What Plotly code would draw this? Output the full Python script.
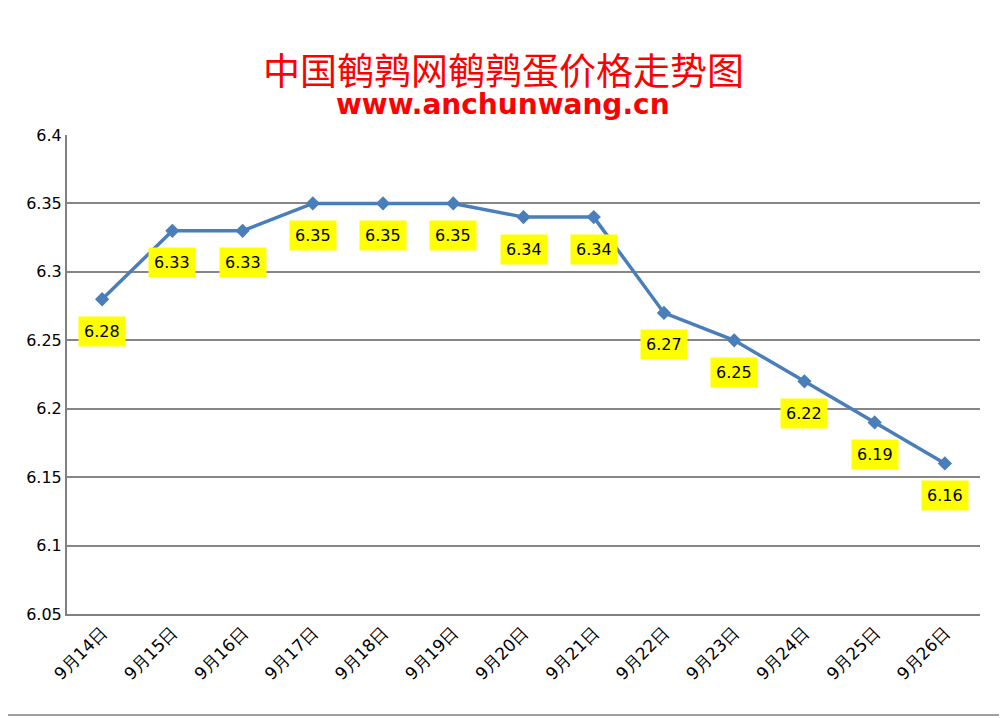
import plotly.graph_objects as go

dates = ["9月14日","9月15日","9月16日","9月17日","9月18日","9月19日","9月20日","9月21日","9月22日","9月23日","9月24日","9月25日","9月26日"]
prices = [6.28,6.33,6.33,6.35,6.35,6.35,6.34,6.34,6.27,6.25,6.22,6.19,6.16]
yticks = [6.05,6.1,6.15,6.2,6.25,6.3,6.35,6.4]

fig = go.Figure(go.Scatter(x=dates, y=prices, mode="lines+markers",
    line=dict(color="#4A7EBB", width=3.5),
    marker=dict(symbol="diamond", size=11, color="#4A7EBB")))

for d, p in zip(dates, prices):
    fig.add_annotation(x=d, y=p, text=f"{p:.2f}", showarrow=False, yshift=-32,
        bgcolor="#FFFF00", font=dict(family="DejaVu Sans", size=16, color="black"),
        borderpad=5)

fig.add_annotation(xref="paper", yref="paper", x=0.478, y=1.198, text="中国鹌鹑网鹌鹑蛋价格走势图",
    showarrow=False, font=dict(family="Noto Sans CJK SC", size=37, color="#FF0000"))
fig.add_annotation(xref="paper", yref="paper", x=0.478, y=1.102, text="<b>www.anchunwang.cn</b>",
    showarrow=False, font=dict(family="DejaVu Sans", size=28, color="#FF0000"))

fig.update_layout(width=1007, height=718, paper_bgcolor="white", plot_bgcolor="white",
    margin=dict(l=59, r=35, t=127, b=112), showlegend=False,
    shapes=[dict(type="rect", xref="paper", yref="paper", x0=-0.072, x1=1.027, y0=-0.211, y1=1.278,
                 line=dict(color="#808080", width=1.5))])
fig.update_xaxes(showgrid=False, tickangle=-45, showline=True, linecolor="#808080", linewidth=2,
    tickfont=dict(family="DejaVu Sans", size=17, color="black"), ticks="", range=[-0.5, 12.5])
fig.update_yaxes(range=[6.05, 6.4], tickvals=yticks, ticktext=[f"{v:g}" for v in yticks],
    gridcolor="#868686", gridwidth=1.5, showline=True, linecolor="#808080", linewidth=2,
    tickfont=dict(family="DejaVu Sans", size=16, color="black"), zeroline=False)
fig.write_html("out.html")
